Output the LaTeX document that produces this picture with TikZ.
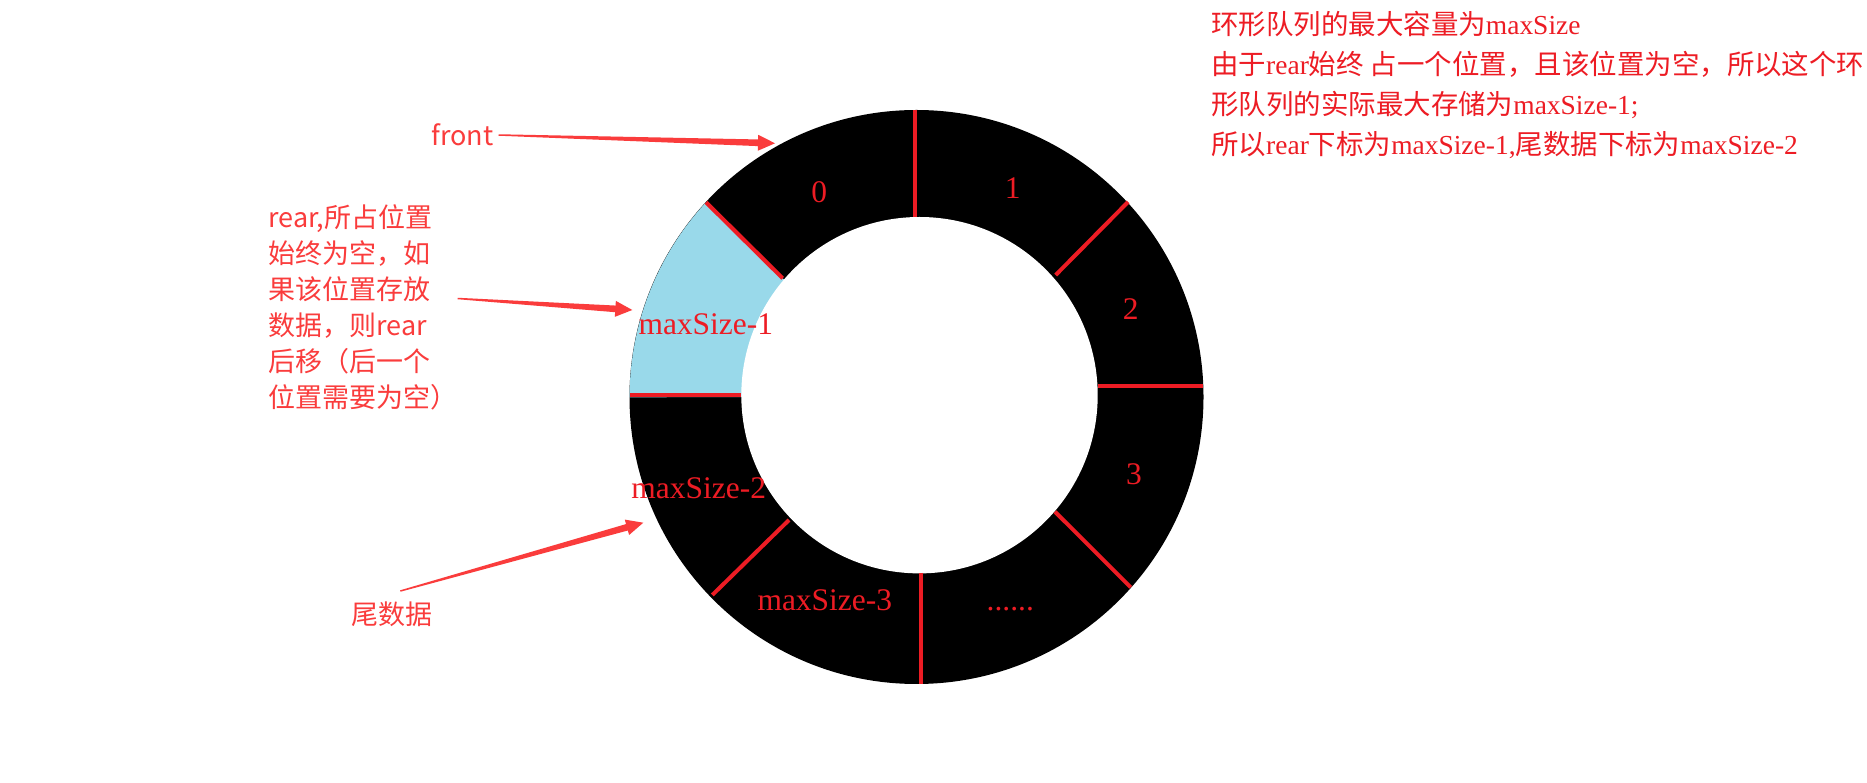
\documentclass[tikz,border=0pt]{standalone}
\usepackage{fontspec}
\setmainfont{Liberation Serif}
\newfontfamily\cjk{Noto Sans CJK SC}
\usetikzlibrary{calc}
\definecolor{ringred}{RGB}{237,28,36}
\definecolor{arrred}{RGB}{250,60,60}
\definecolor{lblue}{RGB}{153,217,234}
\newcommand\taperarrow[2]{%
  \coordinate (tmpH) at ($(#2)!12.75pt!(#1)$);
  \fill[arrred] ($(#1)!0.55pt!90:(#2)$) -- ($(tmpH)!2.5pt!90:(#2)$) -- ($(tmpH)!6pt!90:(#2)$) -- (#2)
     -- ($(tmpH)!6pt!-90:(#2)$) -- ($(tmpH)!2.5pt!-90:(#2)$) -- ($(#1)!0.55pt!-90:(#2)$) -- cycle;}
\tikzset{
  divider/.style={draw=ringred, line width=3pt},
  lbl/.style={anchor=base, text=ringred, inner sep=0pt, font=\fontsize{23.6}{28}\selectfont},
  note/.style={anchor=base west, text=arrred, inner sep=0pt, font=\cjk\fontsize{20.25}{27}\selectfont},
  info/.style={anchor=base west, text=ringred, inner sep=0pt, font=\fontsize{20.6}{30.15}\selectfont},
}
\begin{document}
\begin{tikzpicture}[x=0.75pt,y=0.75pt]
\useasboundingbox (0,0) rectangle (1867,782);
\fill[white] (0,0) rectangle (1867,782);
% ring
\coordinate (O) at (916.5,385);
\coordinate (I) at (919.5,386.8);
\fill[black] (O) circle[radius=287];
\fill[lblue] (O) -- (782.7,503.7) -- (706,579.7) arc[start angle=137.2, end angle=180, radius=287] -- cycle;
\fill[white] (I) circle[radius=178.2];
% dividers
\draw[divider] (915,672.3) -- (915,565);
\draw[divider] (1128,580) -- (1055.7,507);
\draw[divider] (1098,395.7) -- (1203,395.7);
\draw[divider] (1055,270.3) -- (1130.7,194.7);
\draw[divider] (921,209) -- (921,98);
\draw[divider] (789,262) -- (712.3,187);
\draw[divider] (630,387) -- (741,387);
\draw[divider] (706,579.7) -- (782.7,503.7);
% cell labels
\node[lbl] (c0) at (819.3,579.7) {0};
\node[lbl] (c1) at (1012.7,583) {1};
\node[lbl] (c2) at (1130.7,462) {2};
\node[lbl] (c3) at (1134,297.7) {3};
\node[lbl] (cdots) at (1010.3,171.3) {......};
\node[lbl] (cm3) at (824.8,171.3) {maxSize-3};
\node[lbl] (cm2) at (698.7,283) {maxSize-2};
\node[lbl] (cm1) at (705.8,447) {maxSize-1};
% left notes
\node[note] (front) at (431,636) {front};
\node[note] (rear) at (268,554.5) {\begin{tabular}[t]{@{}l@{}}rear,所占位置\\始终为空，如\\果该位置存放\\数据，则rear\\后移（后一个\\位置需要为空）\end{tabular}};
\node[note] (tail) at (351,157) {尾数据};
% right info
\node[info] (info) at (1211,747.7) {\begin{tabular}[t]{@{}l@{}}{\cjk 环形队列的最大容量为}maxSize\\
{\cjk 由于}rear{\cjk 始终 占一个位置，且该位置为空，所以这个环}\\
{\cjk 形队列的实际最大存储为}maxSize-1;\\
{\cjk 所以}rear{\cjk 下标为}maxSize-1,{\cjk 尾数据下标为}maxSize-2\end{tabular}};
% arrows
\coordinate (fs) at ($(front.base east)+(5,11)$);
\coordinate (ft) at (775,638.7);
\coordinate (rs) at ($(rear.base east)+(0,-71)$);
\coordinate (rt) at (632.3,472);
\coordinate (ts) at ($(tail.north)+(8.5,11)$);
\coordinate (tt) at (643.3,259.3);
\taperarrow{fs}{ft}
\taperarrow{rs}{rt}
\taperarrow{ts}{tt}
\end{tikzpicture}
\end{document}
